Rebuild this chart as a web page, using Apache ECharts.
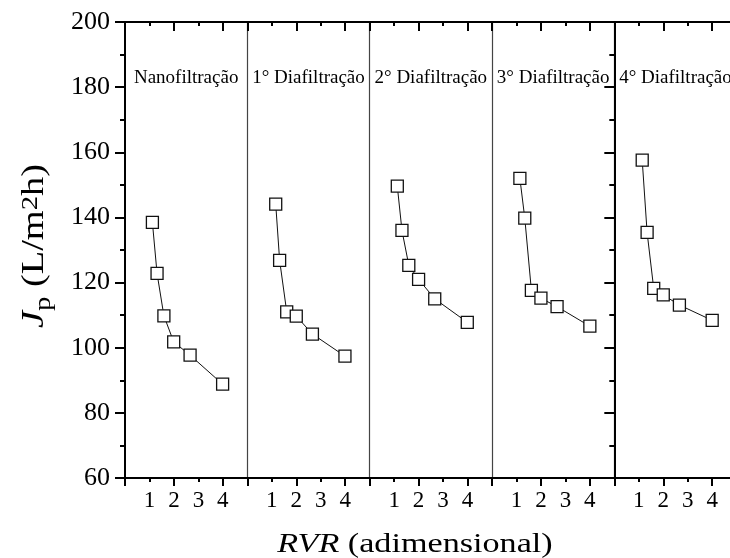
<!DOCTYPE html>
<html>
<head>
<meta charset="utf-8">
<script src="https://cdn.jsdelivr.net/npm/echarts@6/dist/echarts.min.js"></script>
<style>
  html, body { margin: 0; padding: 0; background: #fff; }
  #chart { width: 730px; height: 558px; }
</style>
</head>
<body>
<div id="chart"></div>
<script>
// painéis e valores
var panelTitles = ['Nanofiltração', '1° Diafiltração', '2° Diafiltração', '3° Diafiltração', '4° Diafiltração'];
var rvrNF = [1.12, 1.31, 1.59, 1.99, 2.66, 3.99];
var jpNF  = [138.5, 122.8, 109.8, 101.8, 97.7, 88.8];
var rvrD1 = [1.16, 1.32, 1.61, 2.0, 2.66, 3.99];
var jpD1  = [144.1, 126.8, 111.0, 109.7, 104.2, 97.4];
var rvrD2 = [1.13, 1.32, 1.60, 2.0, 2.66, 3.99];
var jpD2  = [149.6, 136.0, 125.3, 121.0, 115.0, 107.8];
var rvrD3 = [1.14, 1.34, 1.61, 2.0, 2.66, 4.0];
var jpD3  = [152.0, 139.8, 117.6, 115.2, 112.6, 106.6];
var rvrD4 = [1.14, 1.34, 1.61, 2.0, 2.66, 4.0];
var jpD4  = [157.6, 135.4, 118.2, 116.2, 113.1, 108.4];
var xTickLabels = [1, 2, 3, 4];
var yMin = 60, yMax = 200, yStep = 20;

var rvrAll = [rvrNF, rvrD1, rvrD2, rvrD3, rvrD4];
var jpAll = [jpNF, jpD1, jpD2, jpD3, jpD4];

var serif = "'Liberation Serif', 'Times New Roman', serif";
var plotLeft = 125, plotTop = 22, plotH = 456;
var panelW = 122.33;

var grids = [], xAxes = [], yAxes = [], series = [], graphics = [];

for (var i = 0; i < panelTitles.length; i++) {
	grids.push({
		left: plotLeft + i * panelW, top: plotTop, width: panelW, height: plotH,
		outerBoundsMode: 'none', containLabel: false
	});

	// eixo inferior com rótulos e ticks curtos
	xAxes.push({
		gridIndex: i, type: 'value', position: 'bottom', min: 0, max: 5, interval: 1,
		axisLine: { show: true, lineStyle: { color: '#000', width: 2 } },
		axisTick: { show: true, length: 4, lineStyle: { color: '#000', width: 2 } },
		axisLabel: {
			margin: 11, color: '#000', fontFamily: serif, fontSize: 23,
			formatter: function(v) { return xTickLabels.indexOf(v) >= 0 ? String(v) : ''; }
		},
		splitLine: { show: false }
	});
	// ticks maiores a cada 2
	xAxes.push({
		gridIndex: i, type: 'value', position: 'bottom', min: 0, max: 5, interval: 2,
		axisLine: { show: false },
		axisTick: { show: true, length: 8, lineStyle: { color: '#000', width: 2 } },
		axisLabel: { show: false }, splitLine: { show: false }
	});
	// eixo superior
	xAxes.push({
		gridIndex: i, type: 'value', position: 'top', min: 0, max: 5, interval: 1,
		axisLine: { show: true, lineStyle: { color: '#000', width: 2 } },
		axisTick: { show: true, inside: true, length: 4, lineStyle: { color: '#000', width: 2 } },
		axisLabel: { show: false }, splitLine: { show: false }
	});
	xAxes.push({
		gridIndex: i, type: 'value', position: 'top', min: 0, max: 5, interval: 2,
		axisLine: { show: false },
		axisTick: { show: true, inside: true, length: 9, lineStyle: { color: '#000', width: 2 } },
		axisLabel: { show: false }, splitLine: { show: false }
	});

	if (i === 0) {
		yAxes.push({
			gridIndex: i, type: 'value', position: 'left', min: yMin, max: yMax, interval: yStep,
			axisLine: { show: true, lineStyle: { color: '#000', width: 2 } },
			axisTick: { show: true, length: 10, lineStyle: { color: '#000', width: 2 } },
			minorTick: { show: true, splitNumber: 2, length: 5, lineStyle: { color: '#000', width: 2 } },
			axisLabel: { margin: 15, color: '#000', fontFamily: serif, fontSize: 26 },
			splitLine: { show: false }
		});
	} else {
		// linha separadora entre painéis
		yAxes.push({
			gridIndex: i, type: 'value', position: 'left', min: yMin, max: yMax, interval: yStep,
			axisLine: { show: true, lineStyle: { color: '#444', width: 1.2 } },
			axisTick: { show: false }, axisLabel: { show: false }, splitLine: { show: false }
		});
	}

	series.push({
		type: 'line',
		xAxisIndex: i * 4,
		yAxisIndex: i,
		data: rvrAll[i].map(function(x, k) { return [x, jpAll[i][k]]; }),
		symbol: 'rect',
		symbolSize: 12,
		itemStyle: { color: '#fff', borderColor: '#111', borderWidth: 1.3 },
		lineStyle: { color: '#111', width: 1 },
		z: 3,
		animation: false
	});

	graphics.push({
		type: 'text',
		x: plotLeft + (i + 0.5) * panelW,
		y: 78,
		style: {
			text: panelTitles[i], fill: '#000', fontFamily: serif, fontSize: 19,
			align: 'center', verticalAlign: 'middle'
		}
	});
}

// eixo direito
yAxes.push({
	gridIndex: 4, type: 'value', position: 'right', min: yMin, max: yMax, interval: yStep,
	axisLine: { show: true, lineStyle: { color: '#000', width: 2 } },
	axisTick: { show: true, inside: true, length: 10, lineStyle: { color: '#000', width: 2 } },
	minorTick: { show: true, splitNumber: 2, length: 5, lineStyle: { color: '#000', width: 2 } },
	axisLabel: { show: false }, splitLine: { show: false }
});

// título eixo x
graphics.push({
	type: 'text', x: 415, y: 545, scaleX: 1.22,
	style: {
		text: '{i|RVR}{n| (adimensional)}', fill: '#000',
		align: 'center', verticalAlign: 'middle',
		rich: {
			i: { fontFamily: serif, fontSize: 28, fontStyle: 'italic', fill: '#000' },
			n: { fontFamily: serif, fontSize: 28, fill: '#000' }
		}
	}
});
// título eixo y
graphics.push({
	type: 'text', x: 37, y: 246, rotation: Math.PI / 2, scaleX: 1.2,
	style: {
		text: '{i|J}{s|p}{n| (L/m}{u|2}{n|h)}', fill: '#000',
		align: 'center', verticalAlign: 'middle',
		rich: {
			i: { fontFamily: serif, fontSize: 32, fontStyle: 'italic', lineHeight: 36, verticalAlign: 'top', fill: '#000' },
			n: { fontFamily: serif, fontSize: 32, lineHeight: 36, verticalAlign: 'top', fill: '#000' },
			s: { fontFamily: serif, fontSize: 24, lineHeight: 24, verticalAlign: 'top', padding: [13, 0, 0, 0], fill: '#000' },
			u: { fontFamily: serif, fontSize: 24, lineHeight: 24, verticalAlign: 'top', padding: [0, 0, 0, 0], fill: '#000' }
		}
	}
});

var chart = echarts.init(document.getElementById('chart'));
chart.setOption({
	backgroundColor: '#fff',
	animation: false,
	grid: grids,
	xAxis: xAxes,
	yAxis: yAxes,
	series: series,
	graphic: graphics
});
</script>
</body>
</html>
